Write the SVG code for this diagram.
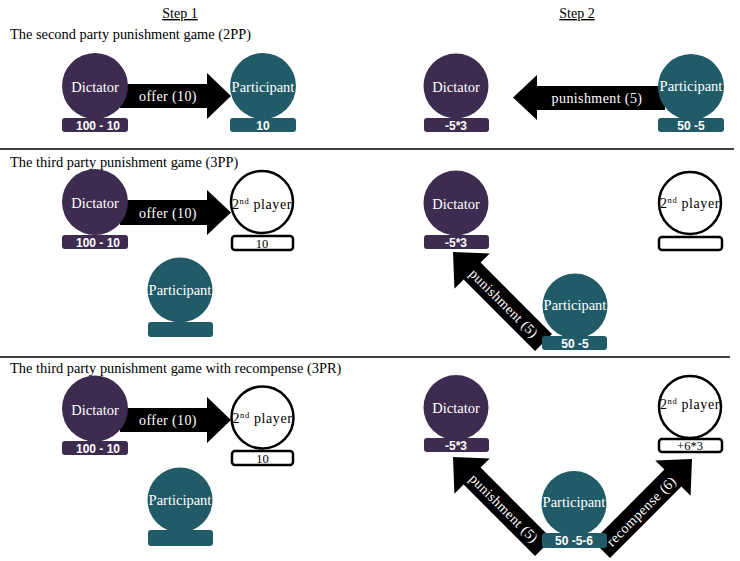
<svg xmlns="http://www.w3.org/2000/svg" width="740" height="561" viewBox="0 0 740 561">
<style>
.bg{fill:#ffffff}
.hdr{font-family:"Liberation Serif",serif;font-size:14px;fill:#000;text-anchor:middle;text-decoration:underline}
.ttl{font-family:"Liberation Serif",serif;font-size:14.4px;fill:#000}
.sep{stroke:#000;stroke-width:1.6}
.dic{fill:#3e2c50}
.par{fill:#225b68}
.sec{fill:#fff;stroke:#000;stroke-width:2.5}
.lbl{font-family:"Liberation Serif",serif;font-size:14.5px;fill:#fff;text-anchor:middle}
.lblk{font-family:"Liberation Serif",serif;font-size:14px;fill:#000;text-anchor:middle;letter-spacing:0.6px}
.val{font-family:"Liberation Sans",Arial,sans-serif;font-size:12px;font-weight:bold;fill:#fff;text-anchor:middle}
.valk{font-family:"Liberation Serif",serif;font-size:12.5px;fill:#000;text-anchor:middle}
.arr{fill:#000}
.alb{font-family:"Liberation Serif",serif;font-size:14px;fill:#fff;text-anchor:middle;letter-spacing:0.4px}
</style>
<defs>
<polygon id="diag" points="-128,-12 -27,-12 -27,-25 0,0 -27,25 -27,12 -128,12"/>
</defs>
<rect class="bg" x="0" y="0" width="740" height="561"/>

<text class="hdr" x="180" y="18">Step 1</text>
<text class="hdr" x="577" y="18">Step 2</text>

<text class="ttl" x="10" y="39">The second party punishment game (2PP)</text>
<text class="ttl" x="10" y="167">The third party punishment game (3PP)</text>
<text class="ttl" x="10" y="373">The third party punishment game with recompense (3PR)</text>

<line class="sep" x1="0" y1="149" x2="734" y2="149"/>
<line class="sep" x1="0" y1="357" x2="730" y2="357"/>

<g id="connectors">
  <polygon class="arr" points="120,84 207,84 207,73 231,96 207,119 207,108 120,108"/>
  <text class="alb" x="168" y="101">offer (10)</text>
  <polygon class="arr" points="513,97.5 537,75 537,86 665,86 665,110 537,110 537,120"/>
  <text class="alb" x="597" y="103">punishment (5)</text>

  <polygon class="arr" points="120,200 207,200 207,190 231,212.5 207,235 207,225 120,225"/>
  <text class="alb" x="168" y="218">offer (10)</text>
  <use href="#diag" class="arr" transform="translate(453,252) rotate(225)"/>
  <text class="alb" transform="translate(504,303) rotate(45)" y="5">punishment (5)</text>

  <polygon class="arr" points="120,408 207,408 207,397 231,420 207,443 207,432 120,432"/>
  <text class="alb" x="168" y="425">offer (10)</text>
  <use href="#diag" class="arr" transform="translate(453,457) rotate(225)"/>
  <text class="alb" transform="translate(504,508) rotate(45)" y="5">punishment (5)</text>
  <use href="#diag" class="arr" transform="translate(692,459) rotate(-45)"/>
  <text class="alb" transform="translate(641,511) rotate(-45)" y="5">recompense (6)</text>
</g>

<!-- Row 1 -->
<g id="r1-dictator">
  <rect class="dic" x="62" y="118" width="66" height="14" rx="3"/>
  <circle class="dic" cx="95" cy="86" r="33"/>
  <text class="lbl" x="95" y="91.5">Dictator</text>
  <text class="val" x="98" y="129.5">100 - 10</text>
</g>
<g id="r1-participant">
  <rect class="par" x="230" y="118" width="66" height="14" rx="3"/>
  <circle class="par" cx="263" cy="86" r="33"/>
  <text class="lbl" x="263" y="91.5">Participant</text>
  <text class="val" x="263" y="129.5">10</text>
</g>
<g id="r1-dictator-s2">
  <rect class="dic" x="424" y="118" width="65" height="14" rx="3"/>
  <circle class="dic" cx="456" cy="86" r="32.5"/>
  <text class="lbl" x="456" y="91.5">Dictator</text>
  <text class="val" x="456" y="129.5">-5*3</text>
</g>
<g id="r1-participant-s2">
  <rect class="par" x="658" y="118" width="66" height="14" rx="3"/>
  <circle class="par" cx="691" cy="87" r="33"/>
  <text class="lbl" x="691" y="90.5">Participant</text>
  <text class="val" x="691" y="129.5">50 -5</text>
</g>

<!-- Row 2 -->
<g id="r2-dictator">
  <rect class="dic" x="62" y="235" width="66" height="14" rx="3"/>
  <circle class="dic" cx="95" cy="202" r="33"/>
  <text class="lbl" x="95" y="207.5">Dictator</text>
  <text class="val" x="98" y="246.5">100 - 10</text>
</g>
<g id="r2-second">
  <rect class="sec" x="232" y="236" width="61" height="14" rx="3"/>
  <circle class="sec" cx="262" cy="202" r="31"/>
  <text class="lblk" x="262" y="208.5">2<tspan font-size="8.5" dy="-5">nd</tspan><tspan dy="5"> player</tspan></text>
  <text class="valk" x="262" y="247.5">10</text>
</g>
<g id="r2-participant">
  <rect class="par" x="148" y="322" width="65" height="15" rx="3"/>
  <circle class="par" cx="180" cy="290" r="32.5"/>
  <text class="lbl" x="180" y="295">Participant</text>
</g>
<g id="r2-dictator-s2">
  <rect class="dic" x="424" y="235" width="65" height="14" rx="3"/>
  <circle class="dic" cx="456" cy="203" r="32.5"/>
  <text class="lbl" x="456" y="209">Dictator</text>
  <text class="val" x="456" y="246.5">-5*3</text>
</g>
<g id="r2-second-s2">
  <rect class="sec" x="659" y="237" width="63" height="13" rx="3"/>
  <circle class="sec" cx="690" cy="203" r="31"/>
  <text class="lblk" x="690" y="208">2<tspan font-size="8.5" dy="-5">nd</tspan><tspan dy="5"> player</tspan></text>
</g>
<g id="r2-participant-s2">
  <rect class="par" x="542" y="336" width="65" height="14" rx="3"/>
  <circle class="par" cx="575" cy="306" r="32.5"/>
  <text class="lbl" x="575" y="310">Participant</text>
  <text class="val" x="575" y="347.5">50 -5</text>
</g>

<!-- Row 3 -->
<g id="r3-dictator">
  <rect class="dic" x="62" y="441" width="66" height="14" rx="3"/>
  <circle class="dic" cx="95" cy="408.5" r="33"/>
  <text class="lbl" x="95" y="414.5">Dictator</text>
  <text class="val" x="98" y="452.5">100 - 10</text>
</g>
<g id="r3-second">
  <rect class="sec" x="232" y="451" width="61" height="14" rx="3"/>
  <circle class="sec" cx="262.5" cy="417.5" r="31"/>
  <text class="lblk" x="262.5" y="423">2<tspan font-size="8.5" dy="-5">nd</tspan><tspan dy="5"> player</tspan></text>
  <text class="valk" x="262.5" y="462.5">10</text>
</g>
<g id="r3-participant">
  <rect class="par" x="148" y="530" width="65" height="16" rx="3"/>
  <circle class="par" cx="180" cy="500" r="32.5"/>
  <text class="lbl" x="180" y="505">Participant</text>
</g>
<g id="r3-dictator-s2">
  <rect class="dic" x="424" y="438" width="65" height="14" rx="3"/>
  <circle class="dic" cx="456" cy="407.5" r="32.5"/>
  <text class="lbl" x="456" y="413">Dictator</text>
  <text class="val" x="456" y="449.5">-5*3</text>
</g>
<g id="r3-second-s2">
  <rect class="sec" x="659" y="439" width="63" height="13" rx="3"/>
  <circle class="sec" cx="690" cy="407" r="31"/>
  <text class="lblk" x="690" y="409">2<tspan font-size="8.5" dy="-5">nd</tspan><tspan dy="5"> player</tspan></text>
  <text class="valk" x="690" y="449.5">+6*3</text>
</g>
<g id="r3-participant-s2">
  <rect class="par" x="542" y="533" width="65" height="15" rx="3"/>
  <circle class="par" cx="574" cy="503.5" r="32.5"/>
  <text class="lbl" x="574" y="507">Participant</text>
  <text class="val" x="574" y="545">50 -5-6</text>
</g>
</svg>
